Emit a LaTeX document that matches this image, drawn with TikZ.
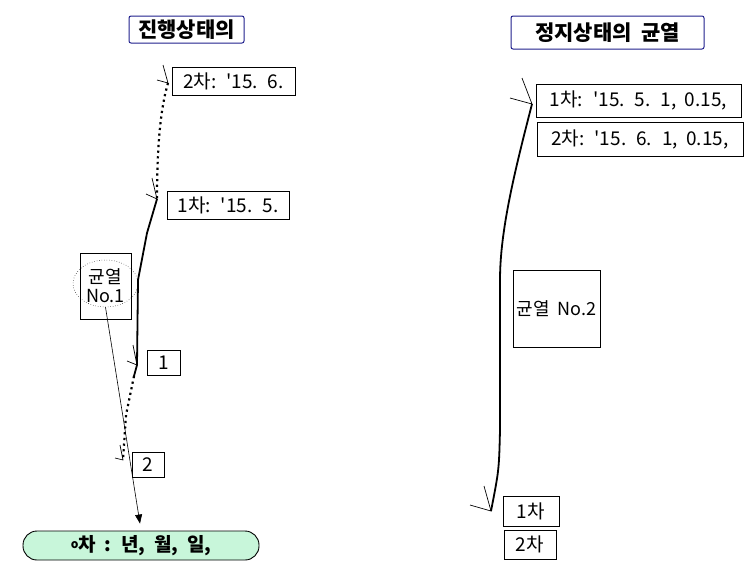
\documentclass[tikz,border=0pt]{standalone}
\usepackage{fontspec}
\setmainfont{Noto Sans CJK KR}[WordSpace=2]
\usetikzlibrary{arrows.meta,calc,shapes.geometric}
\definecolor{tblue}{RGB}{30,30,140}
\definecolor{pillgreen}{RGB}{200,246,218}
\begin{document}
\begin{tikzpicture}[x=1pt,y=-1pt,
  box/.style={draw,line width=0.8pt,inner sep=0pt,align=center,font=\fontsize{19}{21}\selectfont},
  ttl/.style={draw=tblue,line width=1pt,rounded corners=2pt,inner sep=0pt,font=\fontsize{21}{23}\selectfont\bfseries},
  crack/.style={line width=1.8pt,line join=round},
  dotcrack/.style={line width=2.2pt,dash pattern=on 2.2pt off 3.5pt},
  vmark/.style={line width=0.7pt}]
\useasboundingbox (0,0) rectangle (754,566);
% titles
\node[ttl,minimum width=115,minimum height=27] (t1) at (186.5,29.5) {진행상태의};
\node[ttl,minimum width=193,minimum height=33] (t2) at (607.5,32.5) {정지상태의 균열};
% left boxes
\node[box,minimum width=123,minimum height=28] (b2) at (233.5,81) {2차: \textquotesingle15. 6.};
\node[box,minimum width=122,minimum height=28] (b1) at (228,205) {1차: \textquotesingle15. 5.};
\node[box,minimum width=51,minimum height=66,font=\fontsize{18}{19}\selectfont] (n1) at (105.5,286) {균열\\No.1};
\node[draw,ellipse,dotted,line width=0.5pt,minimum width=65,minimum height=47,inner sep=0pt] (c1) at (105.5,283.5) {};
\node[box,minimum width=33,minimum height=25] (bx1) at (163.5,362.5) {1};
\node[box,minimum width=32,minimum height=25] (bx2) at (148,464.5) {2};
\node[draw,fill=pillgreen,line width=0.9pt,rounded corners=14pt,minimum width=236,minimum height=29,inner sep=0pt,font=\fontsize{19}{21}\selectfont\bfseries] (pill) at (141,545.5) {\raisebox{3pt}{\fontsize{12}{12}\selectfont o}차 : 년, 월, 일,};
% right boxes
\node[box,minimum width=205,minimum height=33] (r1) at (638.5,100.5) {1차: \textquotesingle15. 5. 1, 0.15,};
\node[box,minimum width=206,minimum height=34] (r2) at (640,139) {2차: \textquotesingle15. 6. 1, 0.15,};
\node[box,minimum width=87,minimum height=77,font=\fontsize{18}{20}\selectfont] (n2) at (556.5,308.5) {균열 No.2};
\node[box,minimum width=56,minimum height=30] (r3) at (531,511) {1차};
\node[box,minimum width=52,minimum height=29] (r4) at (530,544.5) {2차};
% left crack
\coordinate (L0) at (168,83);
\coordinate (L1) at (157,199);
\coordinate (L2) at (137,365);
\coordinate (L3) at (134,376);
\coordinate (L4) at (123,460);
\draw[dotcrack] (L0) .. controls (160,110) and (157,150) .. (L1);
\draw[crack] (L1) -- (147,233) -- (138,280) -- (L2) -- (L3);
\draw[dotcrack] (L3) -- (126,415) -- (L4);
\draw[vmark] (163,65) -- (L0) -- (157,80);
\draw[vmark] (152,178) -- (L1) -- (146,194);
\draw[vmark] (133,345) -- (L2) -- (127,361);
\draw[vmark] (120,445) -- (L4) -- (115,458);
% arrow to pill
\draw[line width=0.6pt,-{Triangle[length=9pt,width=7pt]}] (c1.south) -- ($(pill.north)+(-1,-7)$);
% right crack
\coordinate (R0) at (532,104);
\coordinate (R1) at (491,511);
\draw[crack] (R0) .. controls (515,170) and (500,230) .. (500,280) -- (500,430) .. controls (499,470) .. (R1);
\draw[vmark] (522,78) -- (R0) -- (510,98);
\draw[vmark] (484,486) -- (R1) -- (470,505);
\end{tikzpicture}
\end{document}
